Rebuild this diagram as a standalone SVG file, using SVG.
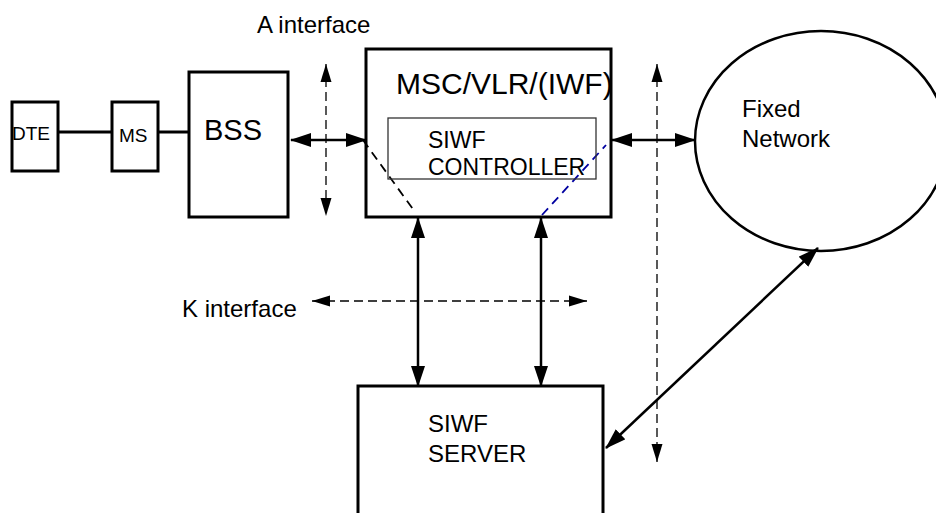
<svg xmlns="http://www.w3.org/2000/svg" width="936" height="513" viewBox="0 0 936 513">
<style>
.box{fill:#fff;stroke:#000;stroke-width:3}
.thin{fill:none;stroke:#333;stroke-width:1.3}
.t{font-family:"Liberation Sans",Arial,sans-serif;fill:#000}
.solid{stroke:#000;stroke-width:2.5;fill:none}
.dash{stroke:#000;stroke-width:1.3;fill:none;stroke-dasharray:9,5}
.wire{stroke:#000;stroke-width:3;fill:none}
</style>
<defs>
<marker id="ah" markerUnits="userSpaceOnUse" markerWidth="22" markerHeight="14" refX="20" refY="7" orient="auto-start-reverse">
<path d="M0,0 L21,7 L0,14 z" fill="#000"/>
</marker>
<marker id="dh" markerUnits="userSpaceOnUse" markerWidth="19" markerHeight="12" refX="18" refY="6" orient="auto-start-reverse">
<path d="M0,0.5 L18,6 L0,11.5 z" fill="#000"/>
</marker>
</defs>
<rect width="936" height="513" fill="#fff"/>

<g id="connectors">
<line class="wire" x1="58" y1="132" x2="112" y2="132"/>
<line class="wire" x1="158" y1="132" x2="189" y2="132"/>
<line class="solid" x1="291" y1="140" x2="366" y2="140" marker-start="url(#ah)" marker-end="url(#ah)"/>
<line class="solid" x1="612" y1="140" x2="695" y2="140" marker-start="url(#ah)" marker-end="url(#ah)"/>
<line class="solid" x1="418" y1="218" x2="418" y2="386" marker-start="url(#ah)" marker-end="url(#ah)"/>
<line class="solid" x1="541" y1="218" x2="541" y2="386" marker-start="url(#ah)" marker-end="url(#ah)"/>
<line class="solid" x1="606" y1="448" x2="818" y2="248" marker-start="url(#ah)" marker-end="url(#ah)"/>
<line class="dash" x1="326" y1="64" x2="326" y2="216" marker-start="url(#dh)" marker-end="url(#dh)"/>
<line class="dash" x1="657" y1="64" x2="657" y2="462" marker-start="url(#dh)" marker-end="url(#dh)"/>
<line class="dash" x1="312" y1="301" x2="587" y2="301" marker-start="url(#dh)" marker-end="url(#dh)"/>
</g>

<g id="dte">
<rect class="box" x="12" y="102" width="46" height="69"/>
<text class="t" x="12" y="140" font-size="19">DTE</text>
</g>
<g id="ms">
<rect class="box" x="112" y="102" width="46" height="69"/>
<text class="t" x="119" y="142" font-size="19">MS</text>
</g>
<g id="bss">
<rect class="box" x="189" y="72" width="99" height="145"/>
<text class="t" x="204" y="140" font-size="29">BSS</text>
</g>
<g id="msc">
<rect class="box" x="366" y="49" width="245" height="168"/>
<text class="t" x="396" y="94" font-size="30">MSC/VLR/(IWF)</text>
<line x1="363" y1="140" x2="415" y2="212" stroke="#000" stroke-width="1.8" stroke-dasharray="9,6"/>
<line x1="542" y1="215" x2="606" y2="145" stroke="#0000a0" stroke-width="1.8" stroke-dasharray="9,6"/>
</g>
<g id="siwf-controller">
<rect class="thin" x="388" y="118" width="208" height="61"/>
<text class="t" x="428" y="148" font-size="23">SIWF</text>
<text class="t" x="428" y="175" font-size="23">CONTROLLER</text>
</g>
<g id="fixed-network">
<ellipse cx="821" cy="141" rx="126" ry="110" fill="none" stroke="#000" stroke-width="2.5"/>
<text class="t" x="742" y="117" font-size="24">Fixed</text>
<text class="t" x="742" y="147" font-size="24">Network</text>
</g>
<g id="siwf-server">
<rect class="box" x="358" y="386" width="245" height="140"/>
<text class="t" x="428" y="432" font-size="24">SIWF</text>
<text class="t" x="428" y="462" font-size="24">SERVER</text>
</g>
<g id="labels">
<text class="t" x="257" y="33" font-size="24">A interface</text>
<text class="t" x="182" y="317" font-size="24">K interface</text>
</g>
</svg>
